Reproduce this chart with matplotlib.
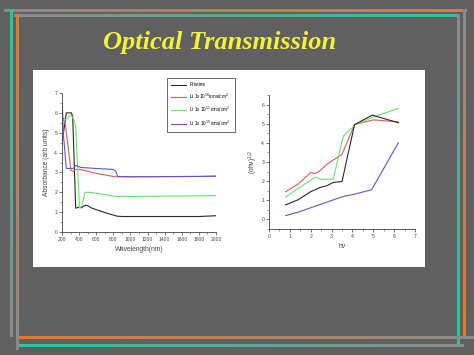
import numpy as np
import matplotlib
matplotlib.use("Agg")
import matplotlib.pyplot as plt
from matplotlib.collections import LineCollection
from matplotlib.colors import to_rgb
from matplotlib.patches import Rectangle
from matplotlib.ticker import MultipleLocator

W, H = 474, 355

# ---- absorbance spectra (left panel) ----
wl_pristine = [205, 250, 310, 325, 360, 400, 430, 450, 490, 550, 700, 840, 900, 1800, 2000]
ab_pristine = [4.6, 6.0, 6.0, 5.8, 1.2, 1.25, 1.22, 1.3, 1.35, 1.2, 0.98, 0.8, 0.78, 0.78, 0.82]

wl_li16 = [215, 240, 305, 330, 360, 420, 600, 820, 1000, 2000]
ab_li16 = [5.75, 5.4, 3.1, 3.05, 3.15, 3.15, 2.95, 2.78, 2.78, 2.8]

wl_li11 = [215, 260, 300, 335, 360, 385, 405, 430, 470, 520, 650, 850, 1200, 2000]
ab_li11 = [5.6, 5.7, 5.9, 5.7, 5.3, 3.0, 1.2, 1.3, 2.0, 2.0, 1.92, 1.78, 1.8, 1.83]

wl_li15 = [205, 215, 250, 330, 360, 420, 600, 800, 830, 850, 1000, 1800, 2000]
ab_li15 = [6.3, 5.0, 3.2, 3.2, 3.35, 3.25, 3.2, 3.15, 3.05, 2.8, 2.78, 2.8, 2.82]

legend_labels = ["Pristine",
                 r"Li 1x10$^{16}$ions/cm$^2$",
                 r"Li 1x 10$^{11}$ions/cm$^2$",
                 r"Li 1x 10$^{15}$ions/cm$^2$"]

# ---- Tauc plot (right panel) ----
hv_black = [0.8, 1.4, 2.0, 2.45, 2.77, 3.08, 3.5, 4.1, 4.95, 6.2]
ty_black = [0.76, 1.03, 1.45, 1.67, 1.76, 1.93, 1.98, 4.95, 5.45, 5.05]

hv_red = [0.8, 1.4, 2.0, 2.2, 2.4, 2.8, 3.5, 4.1, 5.0, 6.2]
ty_red = [1.45, 1.85, 2.45, 2.4, 2.5, 2.9, 3.4, 4.95, 5.2, 5.1]

hv_green = [0.8, 2.2, 2.52, 3.08, 3.56, 4.15, 5.0, 6.2]
ty_green = [1.18, 2.2, 2.1, 2.1, 4.35, 4.95, 5.35, 5.8]

hv_blue = [0.8, 1.4, 2.5, 3.5, 4.1, 4.92, 6.2]
ty_blue = [0.2, 0.38, 0.8, 1.18, 1.32, 1.55, 4.0]

c_black, c_red, c_green, c_blue = "#2a2a2a", "#e25a5a", "#6ee06e", "#5a5ac8"
orange, teal, grey = "#e8772a", "#22c9a0", "#8a8a8a"


def fx(px):
    return px / W


def fy(py):
    return 1 - py / H


def grad_line(fig, p0, p1, c0, c1, lw=2.1, n=40):
    """Line in pixel coords with a colour gradient from c0 to c1."""
    xs = np.linspace(p0[0], p1[0], n + 1)
    ys = np.linspace(p0[1], p1[1], n + 1)
    segs = [[(fx(xs[i]), fy(ys[i])), (fx(xs[i + 1]), fy(ys[i + 1]))] for i in range(n)]
    a, b = np.array(to_rgb(c0)), np.array(to_rgb(c1))
    cols = [a + (b - a) * t for t in np.linspace(0, 1, n)]
    lc = LineCollection(segs, colors=cols, linewidths=lw, transform=fig.transFigure,
                        capstyle="projecting", antialiaseds=False, zorder=-4)
    fig.add_artist(lc)


def style_axes(ax):
    for s in ["top", "right"]:
        ax.spines[s].set_visible(False)
    for s in ["left", "bottom"]:
        ax.spines[s].set_linewidth(0.6)
        ax.spines[s].set_color("#444444")
    ax.tick_params(which="major", direction="out", length=2, width=0.5,
                   labelsize=3.6, colors="#444444", pad=1.5)
    ax.tick_params(which="minor", direction="out", length=1.2, width=0.4, colors="#444444")


fig = plt.figure(figsize=(W / 100, H / 100), dpi=100)
fig.patch.set_facecolor("#606060")
plt.rcParams["font.family"] = ["Liberation Sans", "DejaVu Sans"]

# decorative frame lines
grad_line(fig, (5, 10), (465, 10), grey, orange)
grad_line(fig, (15, 15), (457, 15), grey, teal)
grad_line(fig, (11, 10), (11, 335), teal, grey)
grad_line(fig, (17, 15), (17, 348), orange, grey)
grad_line(fig, (458, 15), (458, 345), grey, teal)
grad_line(fig, (464, 10), (464, 337), grey, orange)
grad_line(fig, (20, 337), (472, 337), orange, grey)
grad_line(fig, (20, 345), (462, 345), teal, grey)

# white panel
fig.add_artist(Rectangle((fx(33), fy(267)), fx(425) - fx(33), fy(70) - fy(267),
                         transform=fig.transFigure, facecolor="white", edgecolor="none",
                         zorder=-3))

fig.text(fx(220), fy(43), "Optical Transmission", ha="center", va="center",
         color="#f2f23a", fontsize=19, fontweight="bold", fontstyle="italic",
         family="Liberation Serif")

# left panel: absorbance
ax1 = fig.add_axes([fx(62), fy(232), fx(216) - fx(62), fy(93) - fy(232)])
ax1.patch.set_alpha(0)
ax1.plot(wl_pristine, ab_pristine, color=c_black, lw=0.8, label=legend_labels[0])
ax1.plot(wl_li16, ab_li16, color=c_red, lw=0.8, label=legend_labels[1])
ax1.plot(wl_li11, ab_li11, color=c_green, lw=0.8, label=legend_labels[2])
ax1.plot(wl_li15, ab_li15, color=c_blue, lw=0.8, label=legend_labels[3])
ax1.set_xlim(200, 2000)
ax1.set_ylim(0, 7)
ax1.xaxis.set_major_locator(MultipleLocator(200))
ax1.xaxis.set_minor_locator(MultipleLocator(100))
ax1.yaxis.set_major_locator(MultipleLocator(1))
ax1.yaxis.set_minor_locator(MultipleLocator(0.5))
style_axes(ax1)
ax1.set_xlabel("Wavelength(nm)", fontsize=4.8, color="#444444", labelpad=3)
ax1.set_ylabel("Absorbance (arb units)", fontsize=4.8, color="#444444", labelpad=3)
leg = ax1.legend(loc="upper left", fontsize=3.4, frameon=True,
                 fancybox=False, handlelength=3.2, borderpad=0.9, labelspacing=0.9,
                 handletextpad=0.6, bbox_to_anchor=(fx(167), fy(78)),
                 bbox_transform=fig.transFigure, borderaxespad=0)
leg.get_frame().set_edgecolor("#444444")
leg.get_frame().set_linewidth(0.7)

# right panel: Tauc plot
ax2 = fig.add_axes([fx(269), fy(229), fx(415) - fx(269), fy(95) - fy(229)])
ax2.patch.set_alpha(0)
ax2.plot(hv_red, ty_red, color=c_red, lw=0.8)
ax2.plot(hv_green, ty_green, color=c_green, lw=0.8)
ax2.plot(hv_blue, ty_blue, color=c_blue, lw=0.8)
ax2.plot(hv_black, ty_black, color=c_black, lw=0.8)
ax2.set_xlim(0, 7)
ax2.set_ylim(-0.5, 6.5)
ax2.xaxis.set_major_locator(MultipleLocator(1))
ax2.xaxis.set_minor_locator(MultipleLocator(0.5))
ax2.yaxis.set_minor_locator(MultipleLocator(0.5))
ax2.set_yticks(range(0, 7))
style_axes(ax2)
ax2.set_xlabel("hν", fontsize=4.8, color="#444444", labelpad=3)
ax2.set_ylabel(r"(αhν)$^{1/2}$", fontsize=4.8, color="#444444", labelpad=1)

fig.savefig("out.png", dpi=100, facecolor=fig.get_facecolor())
